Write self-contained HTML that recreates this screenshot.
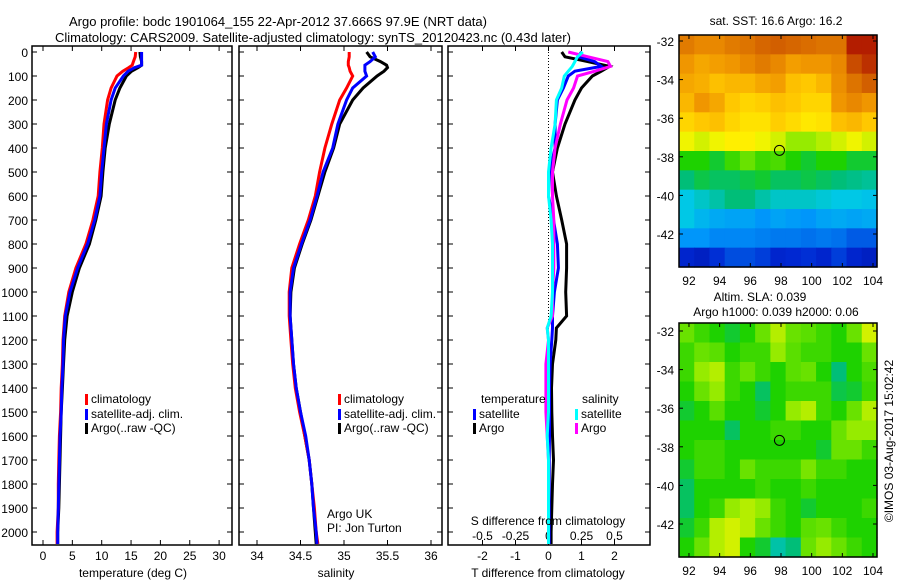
<!DOCTYPE html>
<html><head><meta charset="utf-8">
<style>
html,body{margin:0;padding:0;background:#fff;}
svg{display:block;font-family:"Liberation Sans",sans-serif;font-size:12px;}
</style></head>
<body>
<svg id="fig" width="900" height="580" viewBox="0 0 900 580">
<text x="69" y="26" style="font-size:13px">Argo profile: bodc 1901064_155 22-Apr-2012 37.666S 97.9E (NRT data)</text>
<text x="55" y="42" style="font-size:13px">Climatology: CARS2009. Satellite-adjusted climatology: synTS_20120423.nc (0.43d later)</text>
</svg>
<script>
// ---- profile data ----
const tDepth=[0,20,40,55,65,80,100,150,200,300,400,500,600,700,800,900,1000,1100,1200,1300,1400,1500,1600,1700,1800,1900,2000,2050];
const tClim=[15.8,15.7,15.4,15.2,14.6,13.6,12.6,11.6,11.0,10.4,10.1,9.7,9.4,8.5,7.3,5.6,4.4,3.7,3.4,3.3,3.1,3.0,2.8,2.7,2.6,2.6,2.4,2.4];
const tSat=[16.8,16.8,16.8,16.8,15.6,14.5,13.7,12.3,11.6,10.8,10.4,10.0,9.7,8.8,7.6,5.9,4.6,3.8,3.5,3.4,3.2,3.1,2.9,2.8,2.7,2.6,2.5,2.5];
const tArgo=[16.5,16.6,16.8,16.8,16.2,15.1,14.2,13.1,12.3,11.3,10.6,10.2,9.9,9.0,7.9,6.2,5.0,4.1,3.7,3.5,3.3,3.1,3.0,2.9,2.8,2.7,2.5,2.5];
const sClim=[35.06,35.06,35.05,35.05,35.06,35.07,35.1,35.03,34.95,34.86,34.78,34.72,34.67,34.59,34.49,34.4,34.37,34.37,34.39,34.41,34.44,34.49,34.55,34.6,34.63,34.66,34.68,34.7];
const sSat=[35.33,35.36,35.3,35.24,35.24,35.24,35.26,35.1,35.03,34.93,34.87,34.76,34.69,34.61,34.51,34.42,34.38,34.38,34.4,34.42,34.45,34.5,34.56,34.6,34.63,34.65,34.68,34.69];
const sArgo=[35.26,35.3,35.42,35.49,35.5,35.46,35.38,35.22,35.1,34.95,34.88,34.78,34.7,34.62,34.52,34.43,34.39,34.38,34.4,34.42,34.45,34.5,34.55,34.6,34.63,34.65,34.67,34.68];
const dDepth=[0,20,40,60,80,100,150,200,300,400,500,600,700,800,900,1000,1100,1150,1200,1300,1400,1500,1600,1700,1800,1900,2000,2050];
const dTArgo=[0.4,0.5,1.2,1.85,1.6,1.33,1.0,0.8,0.5,0.27,0.12,0.24,0.4,0.55,0.55,0.52,0.55,0.24,0.22,0.12,0.09,0.1,0.12,0.15,0.12,0.1,0.08,0.08];
const dTSat=[1.0,0.9,1.4,1.6,0.8,0.6,0.45,0.27,0.2,0.2,0.03,0.0,0.15,0.27,0.3,0.18,0.12,0.12,0.1,0.05,0.03,0.03,0.03,0.02,0.02,0.02,0.02,0.02];
const dSArgo=[0.15,0.3,0.45,0.47,0.35,0.22,0.19,0.14,0.09,0.05,0.03,0.03,0.04,0.04,0.04,0.03,0.03,-0.01,0.0,-0.02,-0.02,-0.02,-0.01,0.0,0.0,0.0,0.0,0.0];
const dSSat=[0.26,0.22,0.2,0.18,0.15,0.12,0.1,0.06,0.05,0.02,0.0,0.0,0.02,0.03,0.03,0.03,0.02,-0.01,0.0,0.0,0.0,0.0,-0.01,0.0,0.0,0.0,0.0,0.0];
const depthTicks=[0,100,200,300,400,500,600,700,800,900,1000,1100,1200,1300,1400,1500,1600,1700,1800,1900,2000];
const tTicks=[0,5,10,15,20,25,30];
const sTicks=[34,34.5,35,35.5,36];
const dTTicks=[-2,-1,0,1,2];
const dSTicks=[-0.5,-0.25,0,0.25,0.5];
const dSTickLabels=["-0.5","-0.25","0","0.25","0.5"];
// ---- map data (values 0..1 on colormap), rows north->south ----
const sstRows=[
[.82,.80,.80,.82,.83,.85,.86,.85,.84,.83,.83,.93,.93],
[.78,.76,.77,.78,.80,.82,.80,.77,.78,.78,.80,.88,.91],
[.76,.75,.73,.74,.74,.76,.77,.73,.72,.74,.79,.83,.86],
[.74,.78,.76,.72,.70,.71,.73,.72,.70,.70,.78,.80,.78],
[.70,.72,.73,.70,.68,.68,.71,.69,.67,.68,.73,.74,.72],
[.64,.62,.64,.66,.66,.64,.62,.58,.58,.60,.62,.64,.62],
[.50,.50,.48,.52,.55,.52,.53,.50,.48,.50,.50,.48,.48],
[.45,.47,.46,.46,.47,.48,.46,.46,.47,.46,.45,.44,.43],
[.38,.40,.42,.45,.45,.42,.40,.40,.40,.39,.38,.38,.37],
[.38,.35,.33,.32,.32,.30,.32,.31,.30,.32,.33,.32,.33],
[.30,.30,.28,.28,.28,.27,.26,.26,.25,.26,.25,.22,.22],
[.14,.12,.16,.20,.20,.18,.14,.15,.16,.14,.18,.14,.12]];
const slaRows=[
[.55,.52,.50,.48,.50,.55,.60,.55,.54,.52,.50,.55,.62],
[.52,.55,.54,.50,.52,.52,.58,.54,.52,.52,.50,.50,.55],
[.52,.58,.60,.52,.55,.52,.50,.54,.55,.50,.45,.50,.53],
[.50,.55,.58,.52,.50,.46,.50,.52,.52,.52,.47,.48,.52],
[.48,.50,.54,.50,.50,.48,.50,.58,.60,.52,.50,.55,.60],
[.50,.50,.50,.46,.50,.50,.52,.52,.50,.50,.55,.58,.58],
[.50,.52,.52,.50,.50,.50,.50,.50,.50,.48,.55,.55,.52],
[.48,.52,.52,.50,.55,.52,.52,.52,.56,.52,.52,.50,.50],
[.46,.50,.50,.50,.50,.52,.50,.50,.52,.50,.50,.50,.50],
[.46,.50,.52,.58,.60,.58,.52,.50,.48,.50,.50,.50,.52],
[.48,.52,.60,.62,.60,.55,.52,.50,.54,.55,.52,.50,.50],
[.50,.55,.60,.62,.50,.48,.42,.45,.55,.58,.55,.52,.50]];
const lonTicks=[92,94,96,98,100,102,104];
const latTicks=[-32,-34,-36,-38,-40,-42];
const argoLon=97.9, argoLat=-37.666;

const NS="http://www.w3.org/2000/svg";
const svg=document.getElementById('fig');
function mk(tag,attrs,parent){const e=document.createElementNS(NS,tag);for(const k in attrs)e.setAttribute(k,attrs[k]);(parent||svg).appendChild(e);return e;}
function txt(x,y,s,anchor,name,parent,extra){const e=mk('text',Object.assign({x:x,y:y,'text-anchor':anchor||'start'},extra||{}),parent);e.textContent=s;


return e;}

const Y0=52, PY=0.24, BOT=545, TOP=46;
const yD=d=>Y0+d*PY;
function panel(name,x0,x1){
  const g=mk('g',{});
  
  
  const r=mk('rect',{x:x0,y:TOP,width:x1-x0,height:BOT-TOP,fill:'none',stroke:'#000','stroke-width':1.5},g);
  
  
  depthTicks.forEach(d=>{mk('line',{x1:x0,x2:x0+5,y1:yD(d),y2:yD(d),stroke:'#000'},g);mk('line',{x1:x1-5,x2:x1,y1:yD(d),y2:yD(d),stroke:'#000'},g);});
  return g;
}
function xticks(g,ticks,labels,xf,ly,name){
  ticks.forEach((t,i)=>{const x=xf(t);mk('line',{x1:x,x2:x,y1:TOP,y2:TOP+5,stroke:'#000'},g);mk('line',{x1:x,x2:x,y1:BOT-5,y2:BOT,stroke:'#000'},g);
  if(ly)txt(x,ly,labels[i],'middle',name+'-tick-label',g);});
}
function line(g,xs,ds,xf,color,name,w){
  const pts=xs.map((v,i)=>xf(v).toFixed(1)+','+yD(ds[i]).toFixed(1)).join(' ');
  const p=mk('polyline',{points:pts,fill:'none',stroke:color,'stroke-width':w||3,'stroke-linejoin':'miter'},g);
  
  
}
function legend(g,x,y,color,label,name){
  const r=mk('rect',{x:x,y:y-9,width:3,height:11,fill:color},g);
  
  
  txt(x+6,y,label,'start',name,g);
}
depthTicks.forEach(d=>txt(28,yD(d)+5,String(d),'end','depth-tick-label'));

// Panel 1 temperature
const xT=t=>43+t*5.87;
const p1=panel('temperature-panel',32,232);
xticks(p1,tTicks,tTicks.map(String),xT,560,'temperature');
line(p1,tArgo,tDepth,xT,'#000','temperature-argo-line');
line(p1,tClim,tDepth,xT,'#f00','temperature-climatology-line');
line(p1,tSat,tDepth,xT,'#00f','temperature-satellite-line');
txt(133,577,'temperature (deg C)','middle','temperature-axis-title',p1);
legend(p1,85,403,'#f00','climatology','legend-climatology');
legend(p1,85,418,'#00f','satellite-adj. clim.','legend-satellite-adj');
legend(p1,85,432,'#000','Argo(..raw -QC)','legend-argo');

// Panel 2 salinity
const xS=s=>257+(s-34)*87;
const p2=panel('salinity-panel',239,442);
xticks(p2,sTicks,sTicks.map(String),xS,560,'salinity');
line(p2,sArgo,tDepth,xS,'#000','salinity-argo-line');
line(p2,sClim,tDepth,xS,'#f00','salinity-climatology-line');
line(p2,sSat,tDepth,xS,'#00f','salinity-satellite-line');
txt(336,577,'salinity','middle','salinity-axis-title',p2);
legend(p2,338,403,'#f00','climatology','legend2-climatology');
legend(p2,338,418,'#00f','satellite-adj. clim.','legend2-satellite-adj');
legend(p2,338,432,'#000','Argo(..raw -QC)','legend2-argo');
txt(327,518,'Argo UK','start','argo-uk-label',p2);
txt(327,532,'PI: Jon Turton','start','pi-label',p2);

// Panel 3 differences
const xdT=v=>548.5+v*33;
const xdS=v=>548.5+v*132;
const p3=panel('difference-panel',448,650);
const z=mk('line',{x1:xdT(0),x2:xdT(0),y1:TOP,y2:BOT,stroke:'#000','stroke-dasharray':'1,2'},p3);


xticks(p3,dTTicks,dTTicks.map(String),xdT,560,'t-diff');
dSTicks.forEach((t,i)=>txt(xdS(t),540,dSTickLabels[i],'middle','s-diff-tick-label',p3));
line(p3,dTArgo,dDepth,xdT,'#000','t-diff-argo-line');
line(p3,dTSat,dDepth,xdT,'#00f','t-diff-satellite-line');
line(p3,dSArgo,dDepth,xdS,'#f0f','s-diff-argo-line');
line(p3,dSSat,dDepth,xdS,'#0ff','s-diff-satellite-line');
txt(548,525,'S difference from climatology','middle','s-diff-axis-title',p3);
txt(548,577,'T difference from climatology','middle','t-diff-axis-title',p3);
txt(481,403,'temperature','start','legend-temperature-header',p3);
txt(582,403,'salinity','start','legend-salinity-header',p3);
legend(p3,473,418,'#00f','satellite','legend-t-satellite');
legend(p3,473,432,'#000','Argo','legend-t-argo');
legend(p3,575,418,'#0ff','satellite','legend-s-satellite');
legend(p3,575,432,'#f0f','Argo','legend-s-argo');

// colormap
const cmStops=[[0,0,0,130],[0.15,0,40,210],[0.3,0,150,250],[0.38,0,200,230],[0.45,0,190,120],[0.5,30,210,0],[0.58,150,235,0],[0.65,255,245,0],[0.72,255,200,0],[0.78,240,150,0],[0.86,210,95,0],[0.95,170,10,0],[1,150,0,0]];
function cmap(v){
  for(let i=1;i<cmStops.length;i++){const a=cmStops[i-1],b=cmStops[i];if(v<=b[0]){const f=(v-a[0])/(b[0]-a[0]);
    return 'rgb('+[1,2,3].map(k=>Math.round(a[k]+(b[k]-a[k])*f)).join(',')+')';}}
  return 'rgb(150,0,0)';
}
function map(name,rows,x0,x1,y0,y1,lat32y,lat42y){
  const g=mk('g',{});
  
  
  const lon0=91.35,lon1=104.26;
  const sc=(lat42y-lat32y)/10;
  const xL=l=>x0+(l-lon0)/(lon1-lon0)*(x1-x0);
  const yL=l=>lat32y+(-32-l)*sc;
  const nr=rows.length,nc=rows[0].length;
  const latTop=-32+(lat32y-y0)/sc, latBot=-32-(y1-lat32y)/sc;
  rows.forEach((row,i)=>row.forEach((v,j)=>{
    const la=latTop+(latBot-latTop)*i/nr, lb=latTop+(latBot-latTop)*(i+1)/nr;
    const lo=lon0+(lon1-lon0)*j/nc, lo2=lon0+(lon1-lon0)*(j+1)/nc;
    const r=mk('rect',{x:xL(lo),y:yL(la),width:xL(lo2)-xL(lo)+0.6,height:yL(lb)-yL(la)+0.6,fill:cmap(v)},g);
    
    
  }));
  const f=mk('rect',{x:x0,y:y0,width:x1-x0,height:y1-y0,fill:'none',stroke:'#000','stroke-width':1.5},g);
  
  
  lonTicks.forEach(l=>{const x=xL(l);mk('line',{x1:x,x2:x,y1:y0,y2:y0+4,stroke:'#000'},g);mk('line',{x1:x,x2:x,y1:y1-4,y2:y1,stroke:'#000'},g);txt(x,y1+18,String(l),'middle','lon-tick-label',g);});
  latTicks.forEach(l=>{const y=yL(l);mk('line',{x1:x0,x2:x0+4,y1:y,y2:y,stroke:'#000'},g);mk('line',{x1:x1-4,x2:x1,y1:y,y2:y,stroke:'#000'},g);txt(x0-5,y+5,String(l),'end','lat-tick-label',g);});
  const c=mk('circle',{cx:xL(argoLon),cy:yL(argoLat),r:5,fill:'none',stroke:'#000','stroke-width':1},g);
  
  
}
map('sst-map',sstRows,679,877,35,267,41,234);
map('sla-map',slaRows,679,877,323,557,331,524);
txt(776,25,'sat. SST: 16.6 Argo: 16.2','middle','sst-map-title');
txt(760,301,'Altim. SLA: 0.039','middle','sla-map-title');
txt(776,316,'Argo h1000: 0.039 h2000: 0.06','middle','sla-map-subtitle');
txt(0,0,'\u00a9IMOS 03-Aug-2017 15:02:42','middle','copyright-label',null,{transform:'translate(893,441) rotate(-90)'});
</script>
</body></html>
